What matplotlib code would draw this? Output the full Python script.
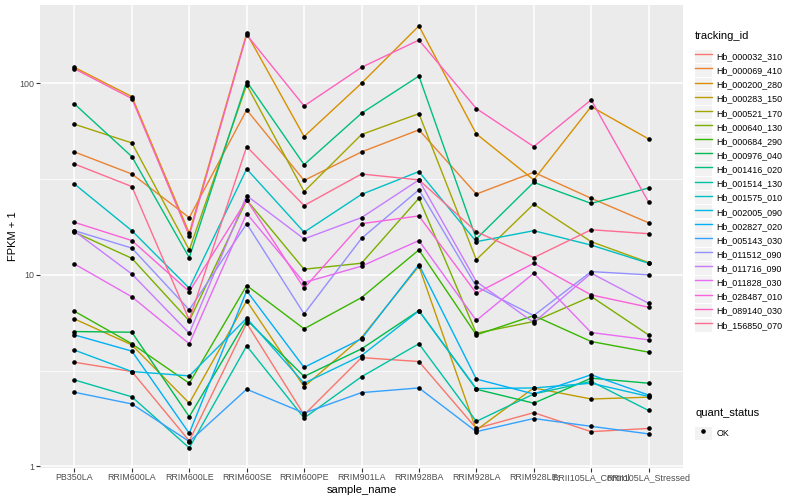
import matplotlib
matplotlib.use('Agg')
import matplotlib.pyplot as plt
from matplotlib.lines import Line2D
from matplotlib.patches import Rectangle
from matplotlib.legend_handler import HandlerLine2D
from matplotlib.ticker import FixedLocator, NullFormatter

plt.rcParams['font.family'] = ['Liberation Sans', 'DejaVu Sans']

samples = ['PB350LA', 'RRIM600LA', 'RRIM600LE', 'RRIM600SE', 'RRIM600PE', 'RRIM901LA',
           'RRIM928BA', 'RRIM928LA', 'RRIM928LE', 'RRII105LA_Control', 'RRII105LA_Stressed']

# FPKM + 1 per gene, one value per sample
hb_000032_310 = [3.50, 3.13, 1.36, 5.59, 1.86, 3.70, 3.53, 1.58, 1.91, 1.52, 1.58]
hb_000069_410 = [43.8, 33.6, 19.9, 72.6, 31.1, 43.8, 57.1, 26.4, 34.3, 25.1, 18.7]
hb_000200_280 = [121, 85.2, 16.5, 182, 52.7, 100, 199, 54.4, 31.3, 75.5, 51.2]
hb_000283_150 = [5.89, 4.31, 2.14, 7.32, 2.61, 4.71, 11.1, 1.55, 2.57, 2.25, 2.30]
hb_000521_170 = [61.1, 48.8, 13.5, 98.0, 27.2, 54.0, 69.4, 12.0, 23.4, 14.9, 11.6]
hb_000640_130 = [16.7, 12.2, 5.75, 24.6, 10.7, 11.5, 25.1, 4.96, 5.71, 7.71, 4.86]
hb_000684_290 = [6.46, 4.37, 2.72, 8.80, 5.23, 7.61, 13.5, 4.86, 6.13, 4.49, 3.95]
hb_000976_040 = [5.06, 5.02, 1.82, 5.82, 2.95, 4.11, 6.51, 2.53, 2.14, 2.89, 2.72]
hb_001416_020 = [78.0, 41.4, 12.3, 102, 37.6, 69.7, 109, 15.4, 30.4, 23.6, 28.4]
hb_001514_130 = [2.83, 2.31, 1.25, 4.26, 1.79, 2.94, 4.37, 1.72, 2.39, 2.78, 1.96]
hb_001575_010 = [29.8, 17.0, 8.52, 35.7, 16.7, 26.3, 34.6, 14.9, 17.0, 14.3, 11.5]
hb_002005_090 = [4.05, 3.13, 2.97, 5.94, 2.72, 3.79, 6.49, 2.55, 2.57, 2.72, 2.32]
hb_002827_020 = [4.86, 4.00, 1.49, 8.25, 3.29, 4.64, 11.3, 2.86, 2.39, 3.01, 2.36]
hb_005143_030 = [2.44, 2.12, 1.35, 2.53, 1.90, 2.43, 2.57, 1.52, 1.78, 1.62, 1.48]
hb_011512_090 = [17.0, 13.8, 6.57, 18.5, 6.26, 15.5, 27.8, 8.69, 6.13, 10.4, 10.0]
hb_011716_090 = [16.9, 10.1, 4.96, 25.9, 15.4, 19.9, 31.3, 9.23, 5.64, 10.2, 7.11]
hb_011828_030 = [11.4, 7.68, 4.37, 20.9, 9.12, 11.1, 15.1, 5.78, 10.2, 5.00, 4.58]
hb_028487_010 = [18.8, 15.1, 8.18, 24.6, 8.52, 18.5, 20.3, 8.02, 11.5, 7.86, 6.78]
hb_089140_030 = [119, 83.2, 16.0, 179, 76.1, 121, 168, 73.8, 46.7, 81.9, 24.0]
hb_156850_070 = [37.9, 28.9, 5.82, 46.7, 23.0, 33.6, 31.3, 16.8, 12.3, 17.2, 16.4]

tracking_ids = ['Hb_000032_310', 'Hb_000069_410', 'Hb_000200_280', 'Hb_000283_150',
                'Hb_000521_170', 'Hb_000640_130', 'Hb_000684_290', 'Hb_000976_040',
                'Hb_001416_020', 'Hb_001514_130', 'Hb_001575_010', 'Hb_002005_090',
                'Hb_002827_020', 'Hb_005143_030', 'Hb_011512_090', 'Hb_011716_090',
                'Hb_011828_030', 'Hb_028487_010', 'Hb_089140_030', 'Hb_156850_070']
series = [hb_000032_310, hb_000069_410, hb_000200_280, hb_000283_150, hb_000521_170,
          hb_000640_130, hb_000684_290, hb_000976_040, hb_001416_020, hb_001514_130,
          hb_001575_010, hb_002005_090, hb_002827_020, hb_005143_030, hb_011512_090,
          hb_011716_090, hb_011828_030, hb_028487_010, hb_089140_030, hb_156850_070]

# ggplot hue palette, 20 levels
colors = ['#F8766D', '#EA8331', '#D89000', '#C09B00', '#A3A500', '#7CAE00', '#39B600',
          '#00BB4E', '#00BF7D', '#00C1A3', '#00BFC4', '#00BAE0', '#00B0F6', '#35A2FF',
          '#9590FF', '#C77CFF', '#E76BF3', '#FA62DB', '#FF62BC', '#FF6C91']


class KeyHandler(HandlerLine2D):
    # grey key box behind each legend line, like ggplot
    def create_artists(self, legend, orig_handle, xdescent, ydescent, width, height, fontsize, trans):
        box = Rectangle((-xdescent, -ydescent + 0.4), width, height - 0.8,
                        facecolor='#F2F2F2', edgecolor='none', transform=trans)
        arts = super().create_artists(legend, orig_handle, xdescent, ydescent, width, height, fontsize, trans)
        return [box] + list(arts)


fig = plt.figure(figsize=(8, 5), dpi=100)
ax = fig.add_axes([40 / 800, 1 - 467.5 / 500, (683 - 40) / 800, (467.5 - 5) / 500])
ax.set_facecolor('#EBEBEB')
for sp in ax.spines.values():
    sp.set_visible(False)

ax.set_yscale('log')
ax.set_ylim(0.988, 256)
ax.set_xlim(-0.6, 10.6)
ax.set_xticks(range(len(samples)), labels=samples)
ax.set_yticks([1, 10, 100], labels=['1', '10', '100'])
ax.yaxis.set_minor_locator(FixedLocator([10 ** 0.5, 10 ** 1.5]))
ax.yaxis.set_minor_formatter(NullFormatter())
ax.grid(which='major', color='white', lw=1.1)
ax.grid(which='minor', axis='y', color='white', lw=0.55)
ax.set_axisbelow(True)
ax.tick_params(which='major', length=2.7, width=0.8, color='#333333',
               labelsize=6.4, labelcolor='#4D4D4D', pad=1.5)
ax.tick_params(which='minor', length=0)

x = list(range(len(samples)))
for vals, col in zip(series, colors):
    ax.plot(x, vals, color=col, lw=1.0, zorder=2)
for vals in series:
    ax.plot(x, vals, ls='none', marker='o', ms=2.3, color='black', zorder=3)

ax.set_xlabel('sample_name', fontsize=8, labelpad=2)
ax.set_ylabel('FPKM + 1', fontsize=8, labelpad=1)

handles = [Line2D([], [], color=c, lw=1.0) for c in colors]
leg1 = fig.legend(handles, tracking_ids, loc='upper left', bbox_to_anchor=(695 / 800, 1 - 31 / 500),
                  title='tracking_id', frameon=False, fontsize=6.4, title_fontsize=8,
                  handlelength=1.9, handleheight=2.07, labelspacing=0, handletextpad=0.5,
                  borderpad=0, borderaxespad=0, alignment='left',
                  handler_map={Line2D: KeyHandler()})
leg1._legend_box.sep = 6
ok = Line2D([], [], ls='none', marker='o', ms=2.3, color='black')
leg2 = fig.legend([ok], ['OK'], loc='upper left', bbox_to_anchor=(695 / 800, 1 - 408 / 500),
                  title='quant_status', frameon=False, fontsize=6.4, title_fontsize=8,
                  handlelength=1.9, handleheight=2.07, labelspacing=0, handletextpad=0.5,
                  borderpad=0, borderaxespad=0, alignment='left',
                  handler_map={Line2D: KeyHandler()})
leg2._legend_box.sep = 6

fig.savefig('out.png', dpi=100)
